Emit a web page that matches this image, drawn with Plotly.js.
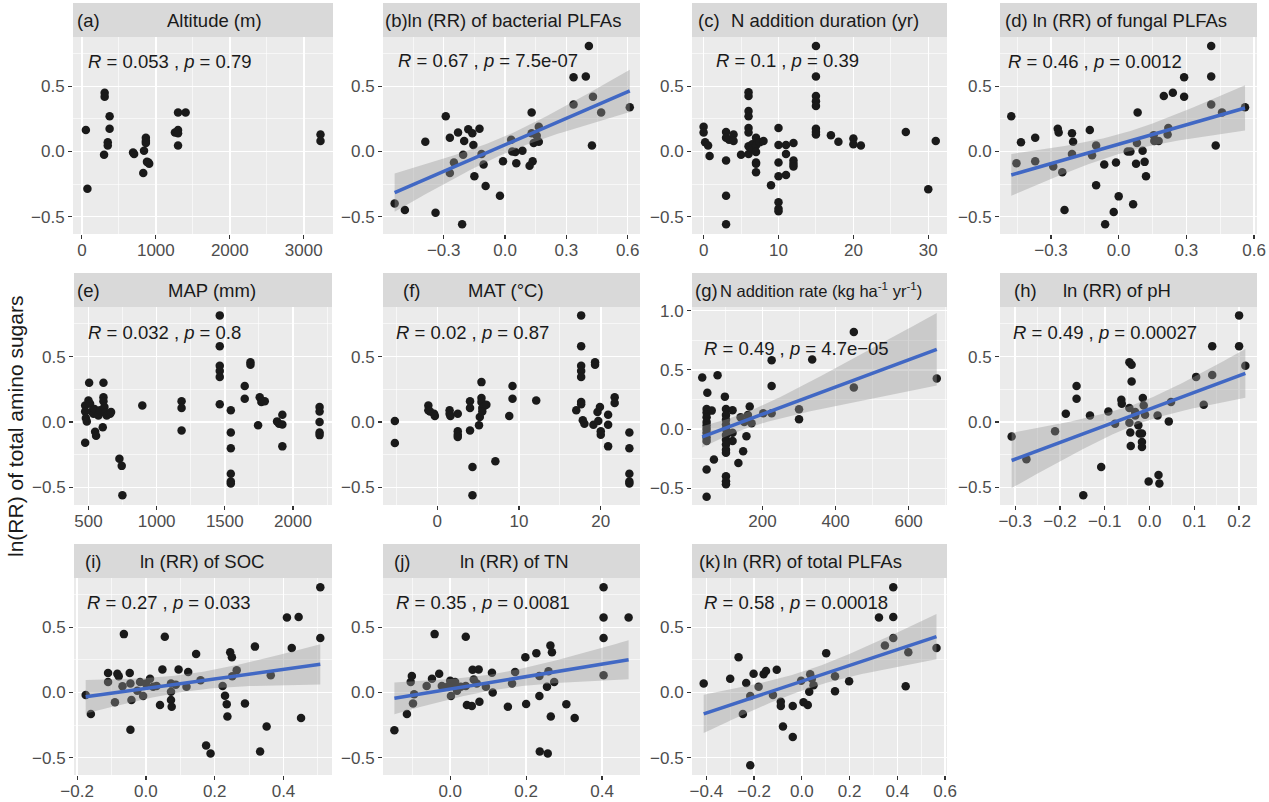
<!DOCTYPE html>
<html><head><meta charset="utf-8">
<script src="https://cdn.plot.ly/plotly-3.0.1.min.js"></script>
<style>body{margin:0;background:#fff}#chart{width:1269px;height:802px}</style>
</head><body><div id="chart"></div>
<script>
// ---------- DATA ----------
// (a) Altitude (m)
const altitudeX=[54,75,308,308,375,375,350,350,300,692,706,840,865,865,865,900,910,830,880,1258,1300,1403,1300,1300,1300,3226,3226];
const altitudeY=[0.165,-0.287,0.45,0.42,0.27,0.175,0.07,0.045,-0.025,-0.008,-0.02,0.005,0.105,0.08,0.065,-0.085,-0.095,-0.165,-0.08,0.145,0.30,0.30,0.165,0.14,0.045,0.13,0.08];
// (b) ln(RR) of bacterial PLFAs
const bactX=[-0.54,-0.49,-0.39,-0.34,-0.29,-0.27,-0.27,-0.25,-0.23,-0.21,-0.205,-0.20,-0.18,-0.16,-0.155,-0.15,-0.125,-0.115,-0.105,-0.095,-0.025,-0.01,0.03,0.035,0.05,0.055,0.085,0.13,0.13,0.135,0.12,0.14,0.155,0.165,0.165,0.335,0.335,0.395,0.41,0.43,0.425,0.47,0.61];
const bactY=[-0.40,-0.45,0.075,-0.47,0.27,0.105,-0.165,-0.085,0.145,-0.56,-0.025,0.08,0.17,0.14,0.05,-0.19,0.175,-0.02,-0.10,-0.265,-0.34,-0.075,0.09,0.0,-0.005,-0.09,0.005,0.30,0.14,-0.075,-0.11,0.065,0.12,0.19,0.075,0.57,0.36,0.575,0.81,0.42,0.045,0.30,0.34];
// (c) N addition duration (yr)
const durX=[0,0,0.2,0.6,0.8, 3,3,3,3,3,3.4, 4,4, 5, 6,6,6,6,6,6,6,6, 6.5,6.5, 7,7,7,7,7,7, 7.5, 8, 9, 10,10,10,10,10,10,10, 11,11,11, 12,12,12,12, 15,15,15,15,15,15,15,15, 17, 18, 20,20, 21, 27, 30, 31];
const durY=[0.19,0.145,0.07,0.045,-0.035, 0.15,0.105,-0.07,-0.34,-0.56,0.09, 0.13,0.08, -0.025, 0.455,0.425,0.31,0.27,0.18,0.145,0.04,-0.02, 0.055,0.02, 0.105,0.045,-0.005,-0.085,-0.095,-0.16, 0.07, 0.08, -0.26, 0.18,0.05,-0.085,-0.19,-0.39,-0.44,-0.46, 0.05,-0.02,-0.18, 0.065,-0.07,-0.095,-0.115, 0.81,0.575,0.425,0.385,0.35,0.175,0.15,0.13, 0.125, 0.075, 0.1,0.055, 0.045, 0.15, -0.29, 0.08];
// (d) ln(RR) of fungal PLFAs
const fungX=[-0.476,-0.453,-0.433,-0.37,-0.37,-0.29,-0.27,-0.266,-0.25,-0.24,-0.207,-0.202,-0.207,-0.128,-0.118,-0.10,-0.10,-0.064,-0.06,-0.022,-0.012,0.0,0.04,0.052,0.064,0.077,0.081,0.084,0.106,0.115,0.121,0.155,0.158,0.177,0.2,0.217,0.22,0.24,0.29,0.29,0.41,0.41,0.41,0.43,0.458,0.56];
const fungY=[0.27,-0.09,0.07,0.105,-0.075,-0.115,0.175,0.145,-0.16,-0.45,0.14,0.075,-0.02,0.165,-0.03,0.045,-0.26,-0.1,-0.56,-0.465,-0.085,-0.345,0.0,0.0,-0.405,-0.095,0.065,0.30,0.005,-0.08,-0.19,0.125,0.08,0.08,0.425,0.13,0.18,0.45,0.42,0.57,0.81,0.575,0.36,0.045,0.30,0.34];
// (e) MAP (mm)
const mapX=[476,476,481,488,476, 505,500,512,524,537, 544,549,556,573,585, 605,610,610,610,617, 622,634,659,666, 727,744,749, 895, 1183,1183,1183, 1463,1463,1463,1463,1463,1463, 1544,1544,1544,1544,1544,1544, 1646,1646, 1688,1688, 1744, 1756,1768,1793, 1883,1898,1922,1922,1922, 2195,2195,2195,2195,2195];
const mapY=[0.127,0.08,0.03,0.005,-0.158, 0.30,0.165,0.14,0.08,0.064, 0.1,-0.075,-0.105,0.05,0.09, -0.04,0.30,0.19,0.158,0.115, 0.07,0.05,0.064,0.076, -0.28,-0.335,-0.56, 0.127, 0.158,0.107,-0.064, 0.815,0.58,0.43,0.39,0.345,0.135, 0.09,-0.08,-0.2,-0.395,-0.455,-0.47, 0.275,0.178, 0.457,0.437, -0.025, 0.19,0.153,0.158, 0.005,-0.013,-0.018,0.056,-0.186, 0.115,0.08,0.0,-0.08,-0.1];
// (f) MAT (°C)
const matX=[-5.2,-5.2, -1.1,-1.1,-0.9,-0.4,-0.3, 1.5,1.5,1.6, 2.5,2.5,2.5,2.5, 4.0,4.0,4.0, 4.3,4.3, 5.1,5.2, 5.4,5.4,5.4, 5.5,5.5, 5.8,6.0, 7.1, 8.8, 9.2,9.2, 12.1, 17.0, 17.6,17.6,17.6,17.6,17.6,17.6,17.6, 17.8,18.0, 19.3,19.3, 19.1, 19.6,19.7, 19.9, 20.0,20.0, 20.9,20.9,20.9, 21.7,21.7, 23.5,23.5,23.5,23.5,23.5];
const matY=[0.008,-0.16, 0.127,0.09,0.08,0.064,0.046, 0.09,0.064,0.046, 0.064,-0.07,-0.097,-0.115, 0.158,0.107,-0.064, -0.344,-0.56, -0.025,0.038, 0.305,0.183,0.153, 0.107,0.08, 0.127,0.132, -0.30, 0.046, 0.275,0.178, 0.165, 0.09, 0.815,0.58,0.43,0.39,0.345,0.153,0.135, 0.013,-0.013, 0.457,0.437, -0.02, 0.076,0.008, 0.115, -0.07,-0.097, 0.056,-0.02,-0.186, 0.19,0.145, -0.08,-0.2,-0.395,-0.455,-0.47];
// (g) N addition rate (kg ha-1 yr-1)
const rateX=[35,49, 47,47,47,47,47,47,47,47,47,47,47, 61,77,67,97, 100,100,100,100,100,100,100,100,100,100,100,100,100, 118,118,118, 134,147,156, 140,150,160,165,170, 202,225,225,225, 300,300,336,450,450,677];
const rateY=[0.435,0.307, 0.17,0.14,0.10,0.06,0.03,0.0,-0.03,-0.07,-0.10,-0.34,-0.57, 0.156,0.455,-0.257,0.274, 0.17,0.12,0.08,0.04,0.0,-0.05,-0.09,-0.13,-0.173,-0.2,-0.397,-0.44,-0.465, 0.16,-0.03,-0.1, -0.285,-0.187,-0.06, 0.1,0.06,0.12,0.19,0.05, 0.134,0.58,0.363,0.134, 0.168,0.084,0.587,0.82,0.352,0.427];
// (h) ln(RR) of pH
const phX=[-0.308,-0.275,-0.211,-0.187,-0.163,-0.163,-0.133,-0.108,-0.148,-0.092,-0.077,-0.063,-0.062,-0.045,-0.04,-0.045,-0.045,-0.043,-0.042,-0.04,-0.032,-0.032,-0.025,-0.022,-0.017,-0.017,-0.017,-0.015,-0.013,-0.01,-0.002,0.018,0.02,0.022,0.043,0.048,0.104,0.121,0.14,0.14,0.2,0.2,0.214];
const phY=[-0.11,-0.285,-0.071,0.064,0.275,0.178,0.05,-0.344,-0.56,0.08,-0.013,0.17,0.14,0.457,0.437,0.107,-0.005,-0.08,-0.183,0.31,0.076,0.05,-0.025,-0.087,-0.087,-0.153,-0.19,0.183,0.127,0.056,-0.455,0.05,-0.405,-0.47,0.005,0.153,0.345,0.132,0.36,0.58,0.815,0.58,0.43];
// (i) ln(RR) of SOC
const socX=[-0.175,-0.16,-0.11,-0.11,-0.09,-0.083,-0.079,-0.068,-0.064,-0.047,-0.045,-0.042,-0.045,-0.025,-0.017,-0.008,0.0,0.012,0.021,0.031,0.041,0.048,0.055,0.073,0.073,0.073,0.075,0.087,0.095,0.118,0.123,0.146,0.159,0.175,0.188,0.223,0.23,0.235,0.237,0.245,0.25,0.251,0.264,0.288,0.317,0.332,0.351,0.363,0.41,0.424,0.444,0.451,0.507,0.507];
const socY=[-0.02,-0.165,0.15,0.08,-0.076,0.144,0.124,0.048,0.448,0.15,0.068,-0.058,-0.286,0.013,0.08,-0.028,0.068,0.106,0.043,0.05,-0.096,0.177,0.428,0.068,0.005,-0.058,-0.109,0.06,0.177,0.043,0.157,0.296,0.094,-0.408,-0.468,0.05,-0.025,-0.091,-0.185,0.309,0.27,0.124,0.17,-0.084,0.352,-0.453,-0.261,0.132,0.575,0.342,0.58,-0.197,0.808,0.418];
// (j) ln(RR) of TN
const tnX=[-0.147,-0.114,-0.104,-0.101,-0.098,-0.095,-0.062,-0.048,-0.041,-0.029,-0.022,-0.007,0.0,0.002,0.009,0.013,0.018,0.028,0.041,0.041,0.044,0.057,0.059,0.062,0.07,0.075,0.077,0.094,0.11,0.112,0.152,0.163,0.171,0.198,0.2,0.227,0.235,0.235,0.236,0.257,0.255,0.259,0.264,0.268,0.265,0.274,0.306,0.328,0.404,0.404,0.404,0.404,0.47];
const tnY=[-0.29,-0.165,0.08,0.127,-0.084,-0.013,0.05,0.106,0.448,0.144,0.05,0.043,0.089,-0.028,0.05,0.08,0.013,0.043,0.428,0.05,-0.096,-0.104,0.175,0.099,0.068,0.177,-0.071,0.043,0.152,0.0,-0.109,0.068,0.157,0.271,-0.089,0.302,0.127,-0.028,-0.453,-0.468,0.043,0.162,0.36,0.309,-0.185,0.08,-0.091,-0.197,0.808,0.575,0.418,0.132,0.575];
// (k) ln(RR) of total PLFAs
const totX=[-0.411,-0.3,-0.265,-0.247,-0.233,-0.216,-0.216,-0.202,-0.181,-0.16,-0.15,-0.121,-0.105,-0.088,-0.088,-0.079,-0.038,-0.038,-0.003,0.007,0.025,0.031,0.035,0.042,0.049,0.102,0.139,0.139,0.198,0.323,0.348,0.383,0.383,0.383,0.435,0.446,0.564];
const totY=[0.068,0.106,0.271,-0.165,0.073,-0.028,-0.56,0.144,0.043,0.139,0.165,-0.02,0.175,-0.071,-0.104,-0.261,-0.104,-0.342,0.089,-0.076,-0.096,0.005,0.139,0.106,0.056,0.302,0.124,0.01,0.086,0.575,0.36,0.808,0.58,0.418,0.048,0.309,0.342];

const stripTitles=['Altitude (m)','ln (RR) of bacterial PLFAs','N addition duration (yr)','ln (RR) of fungal PLFAs','MAP (mm)','MAT (°C)','N addition rate (kg ha<sup>-1</sup> yr<sup>-1</sup>)','ln (RR) of pH','ln (RR) of SOC','ln (RR) of TN','ln (RR) of total PLFAs'];
const stripLetters=['(a)','(b)','(c)','(d)','(e)','(f)','(g)','(h)','(i)','(j)','(k)'];
const statLabels=['<i>R</i> = 0.053 , <i>p</i> = 0.79','<i>R</i> = 0.67 , <i>p</i> = 7.5e-07','<i>R</i> = 0.1 , <i>p</i> = 0.39','<i>R</i> = 0.46 , <i>p</i> = 0.0012','<i>R</i> = 0.032 , <i>p</i> = 0.8','<i>R</i> = 0.02 , <i>p</i> = 0.87','<i>R</i> = 0.49 , <i>p</i> = 4.7e\u221205','<i>R</i> = 0.49 , <i>p</i> = 0.00027','<i>R</i> = 0.27 , <i>p</i> = 0.033','<i>R</i> = 0.35 , <i>p</i> = 0.0081','<i>R</i> = 0.58 , <i>p</i> = 0.00018'];
const yTitle='ln(RR) of total amino sugars';

// ---------- LAYOUT CONFIG (pixels) ----------
const W=1269,H=802;
const FONT='Liberation Sans, Arial, sans-serif';
const rows=[{strip:[3,37],plot:[37,234]},{strip:[273,307],plot:[307,505]},{strip:[544,578],plot:[578,775]}];
// strip entries: L = letter left-aligned, C = title centred, T = title left-aligned, J = letter+title joined
const panels=[
 {x:altitudeX,y:altitudeY,fit:false,row:0,col:[73,333],xr:[-120,3395],xd:1000,xm:500,xf:'d',
  strip:[['L',76],['C',214]],stat:[87,62]},
 {x:bactX,y:bactY,fit:true,row:0,col:[383,640],xr:[-0.597,0.66],xd:0.3,xm:0.15,xf:'.1f',
  strip:[['J',384,'']],stat:[397,60]},
 {x:durX,y:durY,fit:false,row:0,col:[692,947],xr:[-1.55,32.5],xd:10,xm:5,xf:'d',
  strip:[['L',697],['T',730]],stat:[715,60]},
 {x:fungX,y:fungY,fit:true,row:0,col:[1000,1257],xr:[-0.526,0.613],xd:0.3,xm:0.15,xf:'.1f',
  strip:[['J',1004,' ']],stat:[1007,62]},
 {x:mapX,y:mapY,fit:false,row:1,col:[74,332],xr:[394,2286],xd:500,xm:250,xf:'d',
  strip:[['L',76],['C',212]],stat:[87,333]},
 {x:matX,y:matY,fit:false,row:1,col:[383,640],xr:[-6.65,24.8],xd:10,xm:5,xf:'d',
  strip:[['L',402],['C',506]],stat:[395,333]},
 {x:rateX,y:rateY,fit:true,row:1,col:[692,947],xr:[7,705],xd:200,xm:100,xf:'d',yr:[-0.64,1.03],
  strip:[['L',694],['T',719,16.5]],stat:[703,348]},
 {x:phX,y:phY,fit:true,row:1,col:[1000,1257],xr:[-0.334,0.24],xd:0.1,xm:0.05,xf:'.1f',
  strip:[['L',1013],['C',1117]],stat:[1012,333]},
 {x:socX,y:socY,fit:true,row:2,col:[74,332],xr:[-0.209,0.541],xd:0.2,xm:0.1,xf:'.1f',
  strip:[['L',84],['C',202]],stat:[86,602]},
 {x:tnX,y:tnY,fit:true,row:2,col:[383,640],xr:[-0.177,0.5],xd:0.2,xm:0.1,xf:'.1f',
  strip:[['L',393],['C',514]],stat:[395,602]},
 {x:totX,y:totY,fit:true,row:2,col:[692,947],xr:[-0.46,0.608],xd:0.2,xm:0.1,xf:'.1f',
  strip:[['L',698],['T',722]],stat:[703,602]}
];

const px=v=>v/W, py=v=>1-v/H;

// linear fit + 95% CI (like geom_smooth(method='lm'))
function lmBand(xs,ys){
  const n=xs.length; const mx=xs.reduce((a,b)=>a+b,0)/n, my=ys.reduce((a,b)=>a+b,0)/n;
  let sxx=0,sxy=0; for(let i=0;i<n;i++){sxx+=(xs[i]-mx)**2;sxy+=(xs[i]-mx)*(ys[i]-my);}
  const b=sxy/sxx,a=my-b*mx; let sse=0; for(let i=0;i<n;i++){sse+=(ys[i]-a-b*xs[i])**2;}
  const s=Math.sqrt(sse/(n-2)); const df=n-2, z=1.959964;
  const t=z+(z**3+z)/(4*df)+(5*z**5+16*z**3+3*z)/(96*df*df);
  const lo=Math.min(...xs),hi=Math.max(...xs); const gx=[],fy=[],up=[],dn=[];
  for(let k=0;k<80;k++){const x=lo+(hi-lo)*k/79; const f=a+b*x; const se=s*Math.sqrt(1/n+(x-mx)**2/sxx);
    gx.push(x);fy.push(f);up.push(f+t*se);dn.push(f-t*se);}
  return {gx,fy,up,dn};
}

const traces=[],layout={width:W,height:H,margin:{l:0,r:0,t:0,b:0},paper_bgcolor:'#fff',plot_bgcolor:'#EBEBEB',
  showlegend:false,font:{family:FONT,color:'#1A1A1A'},annotations:[],shapes:[]};

panels.forEach((p,i)=>{
  const k=i+1, xa='x'+(k===1?'':k), ya='y'+(k===1?'':k);
  const row=rows[p.row];
  const common={showgrid:true,gridcolor:'#FFFFFF',gridwidth:1.5,zeroline:false,showline:false,
    ticks:'outside',ticklen:4,tickwidth:1.2,tickcolor:'#333333',
    tickfont:{family:FONT,size:17,color:'#4D4D4D'},fixedrange:true};
  layout['xaxis'+(k===1?'':k)]=Object.assign({},common,{domain:[px(p.col[0]),px(p.col[1])],anchor:ya,
    range:p.xr,tick0:0,dtick:p.xd,tickformat:p.xf,ticklabelstandoff:-3,
    minor:{tick0:0,dtick:p.xm,showgrid:true,gridcolor:'#FFFFFF',gridwidth:0.6,ticks:''}});
  layout['yaxis'+(k===1?'':k)]=Object.assign({},common,{domain:[py(row.plot[1]),py(row.plot[0])],anchor:xa,
    range:p.yr||[-0.634,0.879],tick0:0,dtick:0.5,tickformat:'.1f',
    minor:{tick0:0,dtick:0.25,showgrid:true,gridcolor:'#FFFFFF',gridwidth:0.6,ticks:''}});
  traces.push({type:'scatter',mode:'markers',x:p.x,y:p.y,xaxis:xa,yaxis:ya,
    marker:{size:8.5,color:'#1A1A1A'},hoverinfo:'skip',cliponaxis:false});
  if(p.fit){
    const f=lmBand(p.x,p.y);
    traces.push({type:'scatter',mode:'lines',x:f.gx.concat(f.gx.slice().reverse()),y:f.up.concat(f.dn.slice().reverse()),
      xaxis:xa,yaxis:ya,fill:'toself',fillcolor:'rgba(153,153,153,0.4)',line:{width:0},hoverinfo:'skip'});
    traces.push({type:'scatter',mode:'lines',x:f.gx,y:f.fy,xaxis:xa,yaxis:ya,line:{color:'#4168C4',width:3.5},hoverinfo:'skip'});
  }
  // strip
  layout.shapes.push({type:'rect',xref:'paper',yref:'paper',x0:px(p.col[0]),x1:px(p.col[1]),
    y0:py(row.strip[1]),y1:py(row.strip[0]),fillcolor:'#D9D9D9',line:{width:0},layer:'below'});
  const sy=py((row.strip[0]+row.strip[1])/2);
  p.strip.forEach(s=>{
    let text, anchor, size=18.5;
    if(s[0]==='L'){text=stripLetters[i];anchor='left';}
    else if(s[0]==='C'){text=stripTitles[i];anchor='center';}
    else if(s[0]==='T'){text=stripTitles[i];anchor='left'; if(s[2]) size=s[2];}
    else {text=stripLetters[i]+s[2]+stripTitles[i];anchor='left';}
    layout.annotations.push({xref:'paper',yref:'paper',x:px(s[1]),y:sy,xanchor:anchor,yanchor:'middle',
      text:text,showarrow:false,font:{family:FONT,size:size,color:'#1A1A1A'},borderpad:0});
  });
  layout.annotations.push({xref:'paper',yref:'paper',x:px(p.stat[0]),y:py(p.stat[1]),xanchor:'left',yanchor:'middle',
    text:statLabels[i],showarrow:false,font:{family:FONT,size:18.5,color:'#1A1A1A'},borderpad:0});
});
layout.annotations.push({xref:'paper',yref:'paper',x:px(15),y:py(427),xanchor:'center',yanchor:'middle',
  text:yTitle,textangle:-90,showarrow:false,font:{family:FONT,size:21,color:'#1A1A1A'}});

Plotly.newPlot('chart',traces,layout,{displayModeBar:false,staticPlot:true});
</script></body></html>
